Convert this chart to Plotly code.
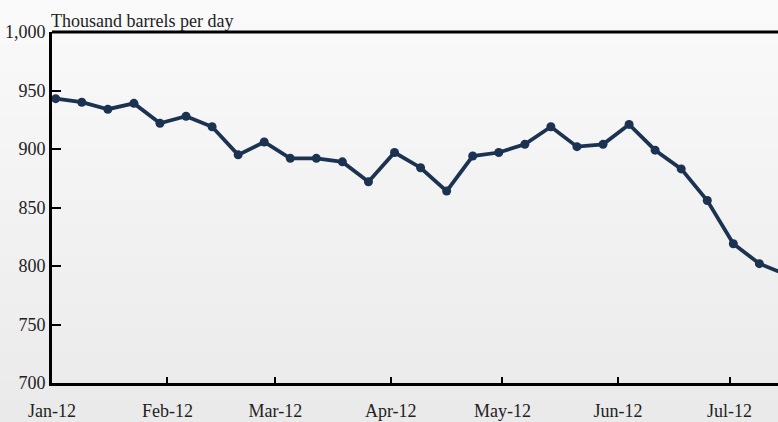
import plotly.graph_objects as go

dates = ["2012-01-02", "2012-01-09", "2012-01-16", "2012-01-23", "2012-01-30",
         "2012-02-06", "2012-02-13", "2012-02-20", "2012-02-27",
         "2012-03-05", "2012-03-12", "2012-03-19", "2012-03-26",
         "2012-04-02", "2012-04-09", "2012-04-16", "2012-04-23", "2012-04-30",
         "2012-05-07", "2012-05-14", "2012-05-21", "2012-05-28",
         "2012-06-04", "2012-06-11", "2012-06-18", "2012-06-25",
         "2012-07-02", "2012-07-09", "2012-07-16"]
values = [943, 940, 934, 939, 922, 928, 919, 895, 906, 892, 892, 889, 872,
          897, 884, 864, 894, 897, 904, 919, 902, 904, 921, 899, 883, 856,
          819, 802, 793]

month_ticks = ["2012-01-01", "2012-02-01", "2012-03-01", "2012-04-01",
               "2012-05-01", "2012-06-01", "2012-07-01"]
month_labels = ["Jan-12", "Feb-12", "Mar-12", "Apr-12", "May-12", "Jun-12", "Jul-12"]
y_ticks = [700, 750, 800, 850, 900, 950, 1000]
y_title = "Thousand barrels per day"

W, H = 778, 422
ML, MR, MT, MB = 52, 0, 32, 39
pw, ph = W - ML - MR, H - MT - MB

FONT = "Liberation Serif"
LINE = "#1b3350"

fig = go.Figure()
fig.add_trace(go.Scatter(
    x=dates, y=values, mode="lines+markers",
    line=dict(color=LINE, width=3.8),
    marker=dict(color=LINE, size=9),
    cliponaxis=True, showlegend=False, hoverinfo="x+y"))

# background gradient bands (whole figure)
shapes = []
n = 40
top_c, bot_c = (250, 250, 250), (234, 234, 234)
y0p = -MB / ph
y1p = 1 + MT / ph
for i in range(n):
    t = i / (n - 1)
    c = tuple(round(top_c[k] + (bot_c[k] - top_c[k]) * t) for k in range(3))
    ya = y1p - (y1p - y0p) * i / n
    yb = y1p - (y1p - y0p) * (i + 1) / n
    shapes.append(dict(type="rect", xref="paper", yref="paper",
                       x0=-ML / pw, x1=1 + 0.01, y0=yb - 0.002, y1=ya,
                       fillcolor="rgb(%d,%d,%d)" % c, line=dict(width=0),
                       layer="below"))
# top frame line
shapes.append(dict(type="line", xref="paper", yref="paper", x0=0, x1=1.01,
                   y0=1, y1=1, line=dict(color="black", width=3), layer="above"))

fig.update_layout(
    width=W, height=H,
    margin=dict(l=ML, r=MR, t=MT, b=MB, pad=0, autoexpand=False),
    paper_bgcolor="#f2f2f2", plot_bgcolor="rgba(0,0,0,0)",
    font=dict(family=FONT, size=18, color="#222222"),
    shapes=shapes,
    annotations=[dict(text=y_title, xref="paper", yref="paper", x=0, y=1,
                      xanchor="left", yanchor="bottom", xshift=-3, yshift=-1,
                      showarrow=False, font=dict(family=FONT, size=18, color="#222222"))],
)
fig.update_xaxes(
    type="date", range=["2012-01-01", "2012-07-14"],
    tickvals=month_ticks, ticktext=month_labels,
    ticks="inside", ticklen=6, tickwidth=2, tickcolor="black",
    showline=True, linecolor="black", linewidth=3, automargin=False,
    showgrid=False, zeroline=False, ticklabelstandoff=9,
)
fig.update_yaxes(
    range=[700, 1000], tickvals=y_ticks, tickformat=",",
    ticks="inside", ticklen=9, tickwidth=2, tickcolor="black",
    showline=True, linecolor="black", linewidth=3, automargin=False,
    showgrid=False, zeroline=False, ticklabelstandoff=0,
)

fig.write_html("out.html", config={"displayModeBar": False},
               post_script="document.body.style.margin='0';document.body.style.padding='0';")
